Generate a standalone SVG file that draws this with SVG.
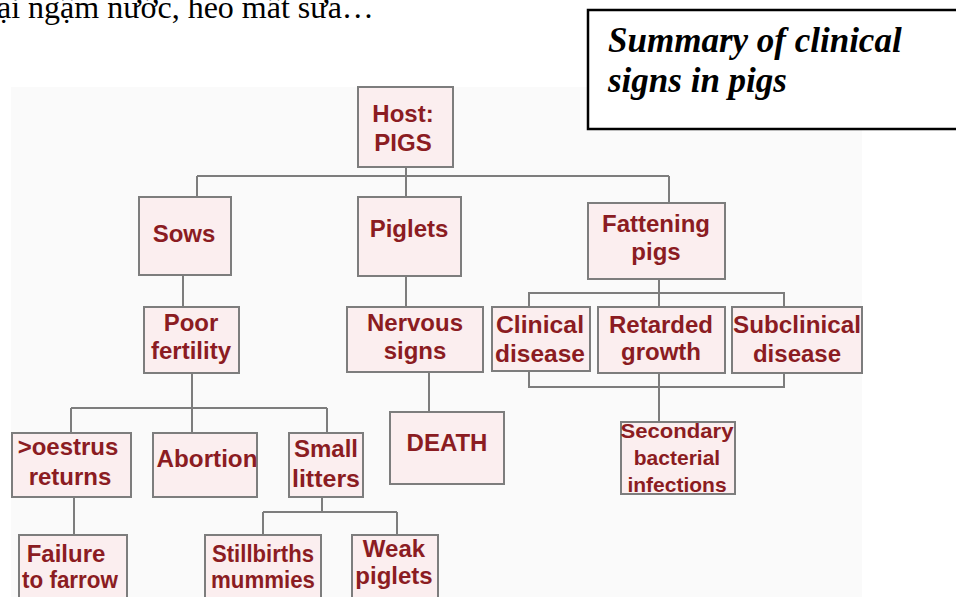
<svg xmlns="http://www.w3.org/2000/svg" width="956" height="597" viewBox="0 0 956 597">
<style>
.box{fill:#fbeeef;stroke:#7d7d7d;stroke-width:2}
.lbl{font-family:"Liberation Sans",Arial,sans-serif;font-weight:bold;font-size:24px;fill:#8b1c22;text-anchor:middle}
.sm{font-size:21px}
.con{fill:none;stroke:#7d7d7d;stroke-width:2}
.title{font-family:"Liberation Serif","Times New Roman",serif;font-weight:bold;font-style:italic;font-size:35px;fill:#000}
</style>
<rect x="0" y="0" width="956" height="597" fill="#ffffff"/>
<rect x="11" y="87" width="851" height="510" fill="#fafafa"/>
<text x="-3" y="18" font-family="'Liberation Serif','Times New Roman',serif" font-size="32" fill="#000">ại ngậm nước, heo mất sữa…</text>
<g id="title">
<rect x="588" y="10" width="372" height="119" fill="#ffffff" stroke="#000" stroke-width="2.5"/>
<text class="title" x="608" y="52">Summary of clinical</text>
<text class="title" x="608" y="92">signs in pigs</text>
</g>
<g id="connectors" class="con">
<path d="M406,167 V197 M197,176 H669 M197,176 V197 M669,176 V203"/>
<path d="M183,275 V307"/>
<path d="M406,276 V307"/>
<path d="M659,279 V293 M529,293 H784 V387 H529 Z M659,293 V422"/>
<path d="M192,373 V433 M71,408 H327 M71,408 V433 M327,408 V433"/>
<path d="M429,372 V412"/>
<path d="M74,497 V535"/>
<path d="M322,497 V512 M263,512 H397 M263,512 V535 M397,512 V535"/>
</g>
<g id="host"><rect class="box" x="358" y="87" width="95" height="80"/><text class="lbl" x="403" y="122">Host:</text><text class="lbl" x="403" y="151">PIGS</text></g>
<g id="sows"><rect class="box" x="139" y="197" width="92" height="78"/><text class="lbl" x="184" y="242">Sows</text></g>
<g id="piglets"><rect class="box" x="358" y="197" width="103" height="79"/><text class="lbl" x="409" y="237">Piglets</text></g>
<g id="fattening"><rect class="box" x="588" y="203" width="137" height="76"/><text class="lbl" x="656" y="232">Fattening</text><text class="lbl" x="656" y="260">pigs</text></g>
<g id="poor-fertility"><rect class="box" x="144" y="307" width="95" height="66"/><text class="lbl" x="191" y="331">Poor</text><text class="lbl" x="191" y="359">fertility</text></g>
<g id="nervous-signs"><rect class="box" x="347" y="307" width="136" height="65"/><text class="lbl" x="415" y="331">Nervous</text><text class="lbl" x="415" y="359">signs</text></g>
<g id="clinical"><rect class="box" x="492" y="307" width="98" height="64"/><text class="lbl" x="540" y="333" textLength="88" lengthAdjust="spacingAndGlyphs">Clinical</text><text class="lbl" x="540" y="362" textLength="90" lengthAdjust="spacingAndGlyphs">disease</text></g>
<g id="retarded"><rect class="box" x="598" y="307" width="127" height="66"/><text class="lbl" x="661" y="333">Retarded</text><text class="lbl" x="661" y="360">growth</text></g>
<g id="subclinical"><rect class="box" x="732" y="307" width="130" height="66"/><text class="lbl" x="797" y="333" textLength="128" lengthAdjust="spacingAndGlyphs">Subclinical</text><text class="lbl" x="797" y="362">disease</text></g>
<g id="death"><rect class="box" x="390" y="412" width="114" height="72"/><text class="lbl" x="447" y="451">DEATH</text></g>
<g id="secondary"><rect class="box" x="621" y="422" width="114" height="72"/><text class="lbl sm" x="677" y="438" textLength="113" lengthAdjust="spacingAndGlyphs">Secondary</text><text class="lbl sm" x="677" y="465">bacterial</text><text class="lbl sm" x="677" y="492">infections</text></g>
<g id="oestrus"><rect class="box" x="12" y="433" width="119" height="64"/><text class="lbl" x="68" y="455">&gt;oestrus</text><text class="lbl" x="70" y="485">returns</text></g>
<g id="abortion"><rect class="box" x="153" y="433" width="104" height="64"/><text class="lbl" x="207" y="467" textLength="101" lengthAdjust="spacingAndGlyphs">Abortion</text></g>
<g id="small-litters"><rect class="box" x="289" y="433" width="74" height="64"/><text class="lbl" x="326" y="457">Small</text><text class="lbl" x="326" y="487" textLength="68" lengthAdjust="spacingAndGlyphs">litters</text></g>
<g id="failure"><rect class="box" x="19" y="535" width="108" height="70"/><text class="lbl" x="66" y="562">Failure</text><text class="lbl" x="70" y="588" textLength="96" lengthAdjust="spacingAndGlyphs">to farrow</text></g>
<g id="stillbirths"><rect class="box" x="205" y="535" width="116" height="70"/><text class="lbl" x="263" y="562" textLength="102" lengthAdjust="spacingAndGlyphs">Stillbirths</text><text class="lbl" x="263" y="588" textLength="104" lengthAdjust="spacingAndGlyphs">mummies</text></g>
<g id="weak-piglets"><rect class="box" x="352" y="535" width="86" height="70"/><text class="lbl" x="394" y="557">Weak</text><text class="lbl" x="394" y="584">piglets</text></g>
</svg>
